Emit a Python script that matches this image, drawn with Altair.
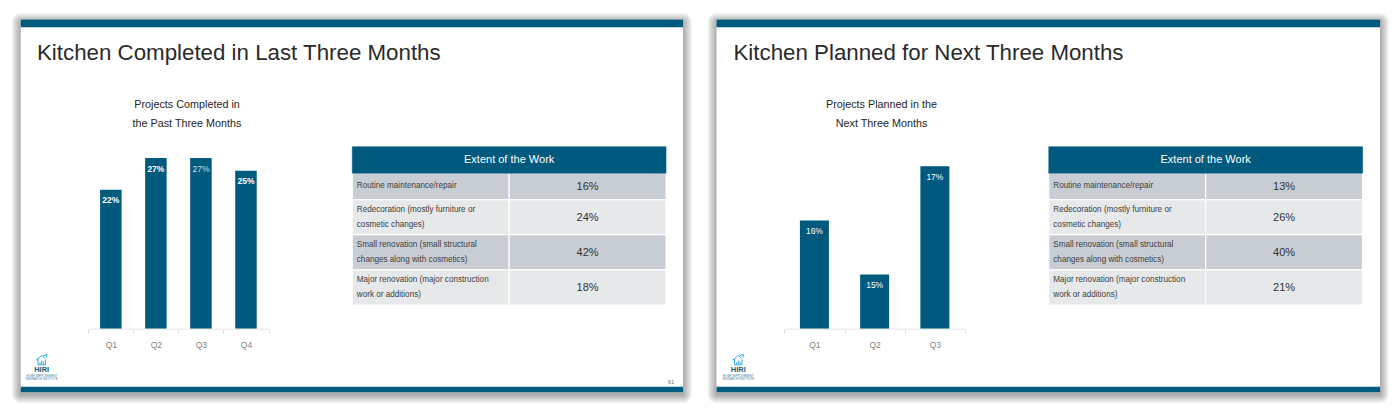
import altair as alt
import pandas as pd

# ---- values ----
left_title = "Kitchen Completed in Last Three Months"
right_title = "Kitchen Planned for Next Three Months"
left_sub = "Projects Completed in\nthe Past Three Months"
right_sub = "Projects Planned in the\nNext Three Months"
left_quarters = ["Q1", "Q2", "Q3", "Q4"]
left_values = [22, 27, 27, 25]
right_quarters = ["Q1", "Q2", "Q3"]
right_values = [16, 15, 17]
table_header = "Extent of the Work"
work_labels = [
    "Routine maintenance/repair",
    "Redecoration (mostly furniture or\ncosmetic changes)",
    "Small renovation (small structural\nchanges along with cosmetics)",
    "Major renovation (major construction\nwork or additions)",
]
work_units = [3, 4, 4, 4]
left_work = [16, 24, 42, 18]
right_work = [13, 26, 40, 21]
logo_name = "HIRI"
logo_sub = "HOME IMPROVEMENT\nRESEARCH INSTITUTE"
page_number = "61"

BLUE = "#005a7e"
W, H = 1384, 404
OX, OY = 8, 8  # page margin
FONT = "Liberation Sans"
HOUSE = ("M-1,0.05 L0,-0.8 L0.55,-0.3 M-0.65,-0.2 L-0.65,0.85 L0.65,0.85 L0.65,-0.1 "
         "M0.25,-0.75 L0.9,-0.95 L0.8,-0.4 M-0.3,0.75 L-0.3,0.4 M0,0.75 L0,0.1 M0.3,0.75 L0.3,0.3")


def px(x):
    return x - OX


def py(y):
    return y - OY


def text_mark(txt, x, y, **kw):
    df = pd.DataFrame({"t": [txt]})
    return alt.Chart(df).mark_text(font=FONT, lineBreak="\n", **kw).encode(
        x=alt.value(px(x)), y=alt.value(py(y)), text=alt.Text("t:N")
    )


def box(x0, x1, y0, y1, color, **kw):
    return alt.Chart(pd.DataFrame({"a": [0]})).mark_rect(color=color, **kw).encode(
        x=alt.value(px(x0)), x2=alt.value(px(x1)), y=alt.value(py(y0)), y2=alt.value(py(y1))
    )


def frame(L, R):
    T, B = 19.5, 392.3
    layers = []
    for d in range(9, 0, -1):
        layers.append(box(L - d, R + d, T - d + 2.5, B + d + 2, "#000000", opacity=0.04, cornerRadius=d))
    layers.append(box(L, R, T, B, "#ffffff"))
    layers.append(box(L, R, T, 27.3, BLUE))
    layers.append(box(L, R, 386.7, B, BLUE))
    return layers


def bars(cats, vals, x0, x1, bar_w, dom, top, label_weight, faint=()):
    df = pd.DataFrame({"q": cats, "v": vals, "lab": [f"{v}%" for v in vals]})
    x = alt.X(
        "q:N",
        title=None,
        sort=cats,
        scale=alt.Scale(domain=cats, range=[px(x0), px(x1)], paddingInner=0, paddingOuter=0),
        axis=alt.Axis(
            orient="bottom", labelAngle=0, labelFont=FONT, labelFontSize=8.5, labelColor="#7f7f7f",
            labelPadding=8, tickBand="extent", tickSize=4, tickColor="#dddddd", domainColor="#e6e6e6",
            offset=-(H - py(328.7)), grid=False, zindex=1,
        ),
    )
    y = alt.Y("v:Q", title=None, axis=None,
              scale=alt.Scale(domain=dom, range=[py(328.7), py(top)], zero=False, clamp=True))
    b = alt.Chart(df).mark_bar(size=bar_w, color=BLUE, clip=False).encode(x=x, y=y)
    strong = df[~df["q"].isin(faint)]
    weak = df[df["q"].isin(faint)]
    t = alt.Chart(strong).mark_text(font=FONT, fontSize=8.5, fontWeight=label_weight, dy=10.5,
                                    baseline="middle", color="#ffffff").encode(
        x=alt.X("q:N", sort=cats), y=alt.Y("v:Q"), text=alt.Text("lab:N"))
    parts = [b, t]
    if len(weak):
        parts.append(alt.Chart(weak).mark_text(font=FONT, fontSize=8.5, dy=11, baseline="middle",
                                               color="#cfdbe2").encode(
            x=alt.X("q:N", sort=cats), y=alt.Y("v:Q"), text=alt.Text("lab:N")))
    return alt.layer(*parts)


def table(x0, x1, values):
    rows = []
    pos = 3
    scale_units = (305 - 146.8) / (3 + sum(work_units))
    for label, units, val in zip(work_labels, work_units, values):
        n_lines = label.count("\n") + 1
        rows.append({"start": pos, "end": pos + units, "mid": pos + units / 2,
                     "first": pos + units / 2 - (n_lines - 1) * 7.5 / scale_units,
                     "label": label, "val": f"{val}%", "idx": len(rows)})
        pos += units
    df = pd.DataFrame(rows)
    cells = pd.concat([df.assign(col="label"), df.assign(col="value")])
    xs = alt.Scale(domain=["label", "value"], range=[px(x0), px(x1)], paddingInner=0, paddingOuter=0)
    ys = alt.Scale(domain=[0, pos], range=[py(146.8), py(305)], zero=False, nice=False)
    xe = alt.X("col:N", title=None, axis=None, scale=xs)
    ye = alt.Y("start:Q", title=None, axis=None, scale=ys)
    body = alt.Chart(cells).mark_rect(stroke="#ffffff", strokeWidth=1.2).encode(
        x=xe, y=ye, y2="end:Q",
        color=alt.condition("datum.idx % 2 == 0", alt.value("#c8cdd3"), alt.value("#e6e8ea")),
    )
    head_df = pd.DataFrame({"col": ["label", "value"], "start": [0, 0], "end": [3, 3], "mid": [1.5, 1.5],
                            "t": [table_header, table_header]})
    head = alt.Chart(head_df).mark_rect(color=BLUE, stroke=BLUE, strokeWidth=0.6).encode(x=xe, y=ye, y2="end:Q")
    head_text = alt.Chart(head_df.iloc[[1]]).mark_text(font=FONT, fontSize=11, color="#ffffff").encode(
        x=alt.X("col:N", bandPosition=0), y=alt.Y("mid:Q"), text=alt.Text("t:N"))
    labels = alt.Chart(df.assign(col="label")).mark_text(
        font=FONT, fontSize=8.15, color="#404040", align="left", dx=4.5, lineBreak="\n", lineHeight=15,
        baseline="middle",
    ).encode(x=alt.X("col:N", bandPosition=0), y=alt.Y("first:Q"), text=alt.Text("label:N"))
    vals = alt.Chart(df.assign(col="value")).mark_text(font=FONT, fontSize=11, color="#333333", dy=1,
                                                       baseline="middle").encode(
        x=alt.X("col:N"), y=alt.Y("mid:Q"), text=alt.Text("val:N"))
    return alt.layer(body, head, head_text, labels, vals)


def logo(cx):
    house = alt.Chart(pd.DataFrame({"a": [0]})).mark_point(
        shape=HOUSE, filled=False, color="#1c9fd8", strokeWidth=0.9, opacity=1
    ).encode(x=alt.value(px(cx)), y=alt.value(py(360)), size=alt.value(130))
    return [
        house,
        text_mark(logo_name, cx, 370.3, fontSize=7.5, fontWeight="bold", color="#0f5b7d", align="center",
                  baseline="middle"),
        text_mark(logo_sub, cx, 375.7, fontSize=2.9, color="#3f7f9c", align="center", baseline="middle",
                  lineHeight=3.6),
    ]


layers = []
layers += frame(20.7, 683)
layers += frame(716.5, 1380)
layers += [
    text_mark(left_title, 37, 52.5, fontSize=22.3, color="#2a2a2a", align="left", baseline="middle"),
    text_mark(right_title, 733.5, 52.5, fontSize=22.3, color="#2a2a2a", align="left", baseline="middle"),
    text_mark(left_sub, 187, 104.5, fontSize=10.8, color="#262626", align="center", baseline="middle", lineHeight=19.5),
    text_mark(right_sub, 881.5, 104.5, fontSize=10.8, color="#262626", align="center", baseline="middle", lineHeight=19.5),
    text_mark(page_number, 671, 382, fontSize=6, color="#777777", align="center", baseline="middle"),
]
layers += logo(41.7) + logo(738.3)
layers += [
    bars(left_quarters, left_values, 88.3, 268.5, 21.5, [0, 30], 328.7 - 189.6, "bold", faint=["Q3"]),
    bars(right_quarters, right_values, 784.3, 965, 29, [14, 17], 166.3, "normal"),
    table(352.3, 666, left_work),
    table(1048.8, 1362.5, right_work),
]

chart = (
    alt.layer(*layers)
    .resolve_scale(x="independent", y="independent")
    .properties(width=W, height=H, padding=0, background="#ffffff",
                autosize=alt.AutoSizeParams(type="none"))
    .configure_view(stroke="transparent", strokeWidth=0)
)

chart.save("out.html", embed_options={"renderer": "svg", "actions": False})
